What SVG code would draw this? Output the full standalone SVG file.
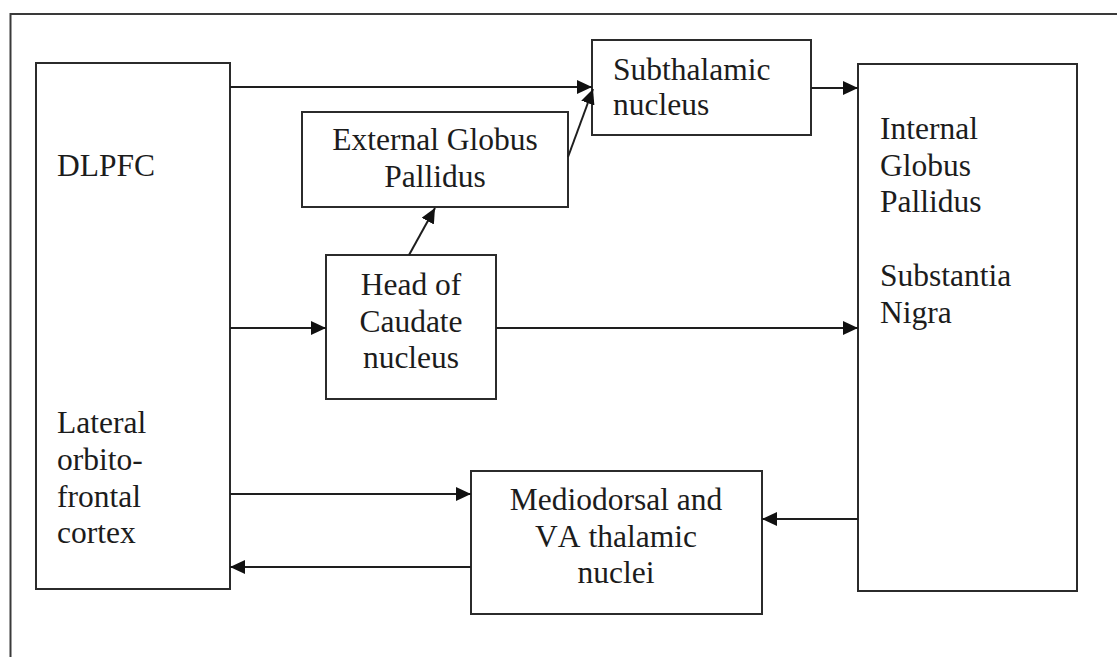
<svg xmlns="http://www.w3.org/2000/svg" width="1117" height="657" viewBox="0 0 1117 657">
  <style>
    .box { fill: #ffffff; stroke: #2b2b2b; stroke-width: 2; }
    .frame { fill: none; stroke: #3a3a3a; stroke-width: 2; }
    .edge { fill: none; stroke: #1e1e1e; stroke-width: 2; marker-end: url(#arrow); }
    .lbl { font-family: "Liberation Serif", "Times New Roman", serif; font-size: 31.5px; fill: #1c1c1c; font-kerning: none; }
    .mid { text-anchor: middle; }
  </style>
  <defs>
    <marker id="arrow" markerUnits="userSpaceOnUse" markerWidth="15" markerHeight="14" refX="15" refY="7" orient="auto">
      <path d="M0,0 L15,7 L0,14 z" fill="#111111"/>
    </marker>
  </defs>

  <rect x="0" y="0" width="1117" height="657" fill="#ffffff"/>

  <!-- outer frame, open to the right and bottom -->
  <rect class="frame" x="10.5" y="14" width="1200" height="700"/>

  <g id="dlpfc">
    <rect class="box" x="36" y="63" width="194" height="526"/>
    <text class="lbl" x="57" y="176">DLPFC</text>
    <text class="lbl" x="57" y="433">Lateral</text>
    <text class="lbl" x="57" y="470">orbito-</text>
    <text class="lbl" x="57" y="507">frontal</text>
    <text class="lbl" x="57" y="543">cortex</text>
  </g>

  <g id="subthalamic">
    <rect class="box" x="592" y="40" width="219" height="95"/>
    <text class="lbl" x="613" y="80">Subthalamic</text>
    <text class="lbl" x="613" y="115">nucleus</text>
  </g>

  <g id="external-gp">
    <rect class="box" x="302" y="112" width="266" height="95"/>
    <text class="lbl mid" x="435" y="150">External Globus</text>
    <text class="lbl mid" x="435" y="187">Pallidus</text>
  </g>

  <g id="head-of-caudate">
    <rect class="box" x="326" y="255" width="170" height="144"/>
    <text class="lbl mid" x="411" y="295">Head of</text>
    <text class="lbl mid" x="411" y="332">Caudate</text>
    <text class="lbl mid" x="411" y="368">nucleus</text>
  </g>

  <g id="internal-gp-sn">
    <rect class="box" x="858" y="64" width="219" height="527"/>
    <text class="lbl" x="880" y="139">Internal</text>
    <text class="lbl" x="880" y="176">Globus</text>
    <text class="lbl" x="880" y="212">Pallidus</text>
    <text class="lbl" x="880" y="286">Substantia</text>
    <text class="lbl" x="880" y="323">Nigra</text>
  </g>

  <g id="thalamic-nuclei">
    <rect class="box" x="471" y="471" width="291" height="143"/>
    <text class="lbl mid" x="616" y="510">Mediodorsal and</text>
    <text class="lbl mid" x="616" y="547">VA thalamic</text>
    <text class="lbl mid" x="616" y="583">nuclei</text>
  </g>

  <g id="connectors">
    <line class="edge" x1="230" y1="87" x2="592" y2="87"/>
    <line class="edge" x1="568" y1="157" x2="593" y2="89"/>
    <line class="edge" x1="811" y1="88" x2="858" y2="88"/>
    <line class="edge" x1="409" y1="255" x2="435" y2="208"/>
    <line class="edge" x1="230" y1="328" x2="326" y2="328"/>
    <line class="edge" x1="496" y1="328" x2="858" y2="328"/>
    <line class="edge" x1="230" y1="494" x2="471" y2="494"/>
    <line class="edge" x1="858" y1="519" x2="762" y2="519"/>
    <line class="edge" x1="471" y1="567" x2="230" y2="567"/>
  </g>
</svg>
